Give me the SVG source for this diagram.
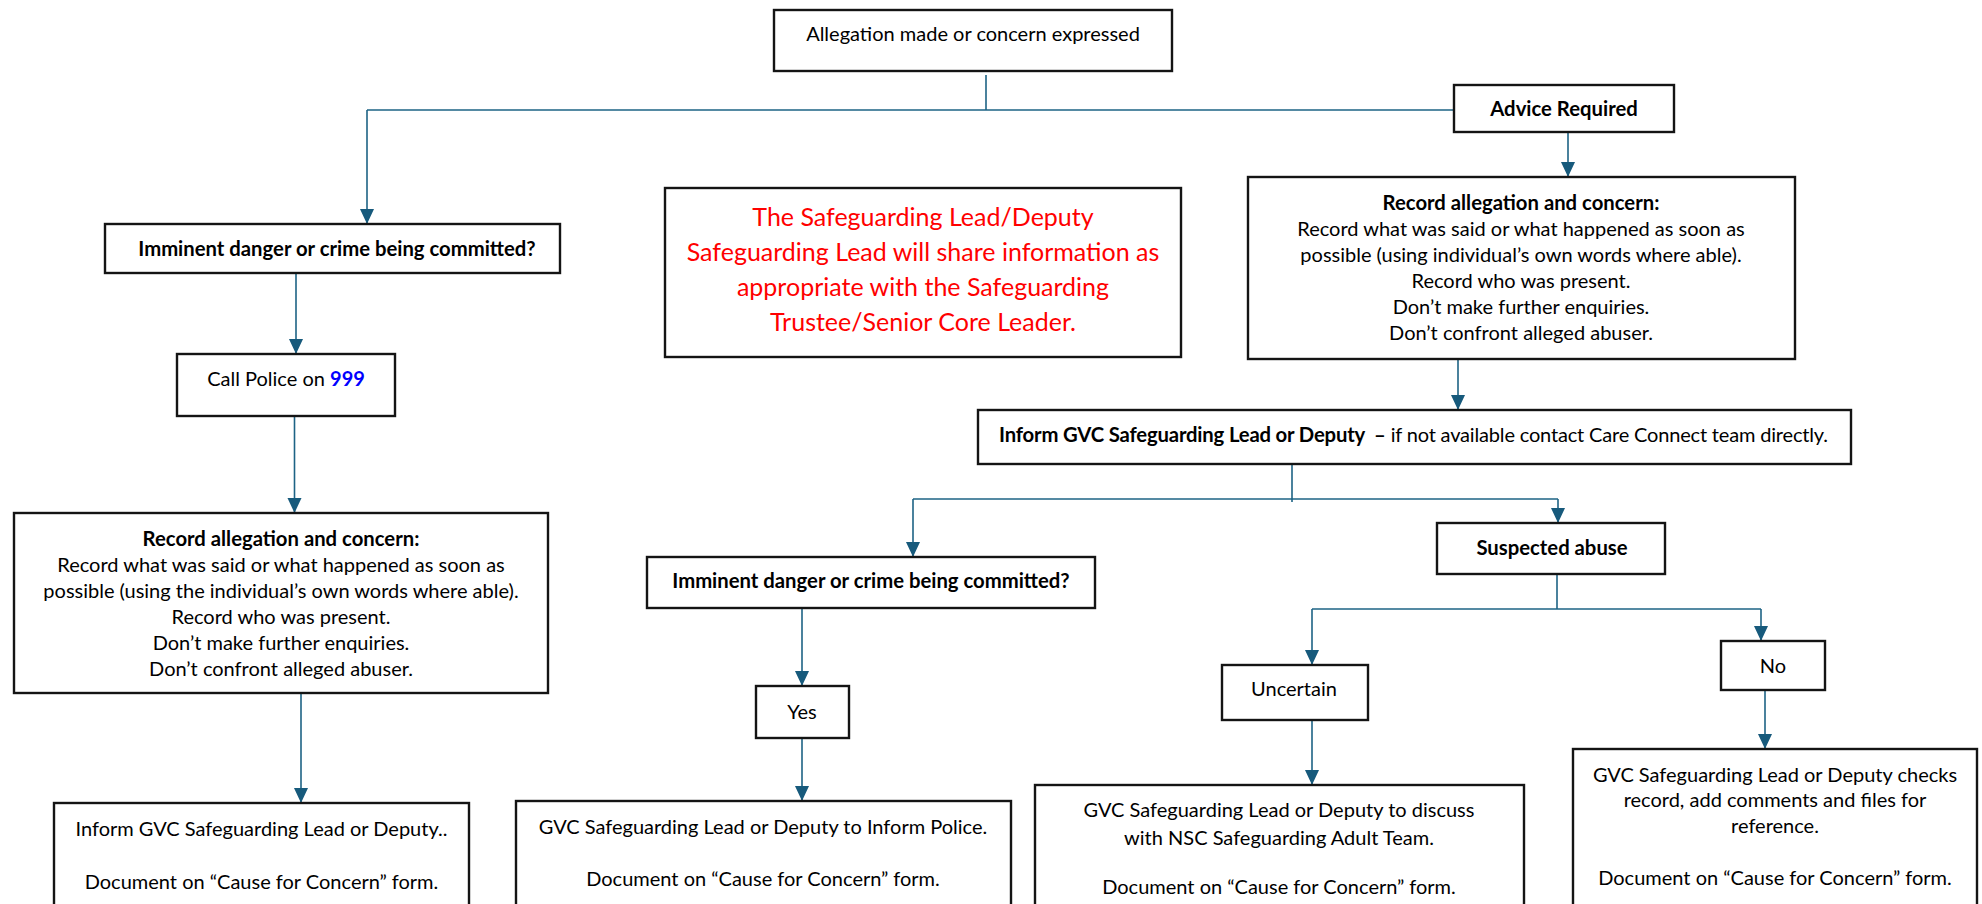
<svg xmlns="http://www.w3.org/2000/svg" width="1982" height="904" viewBox="0 0 1982 904">
<style>
.box{fill:#fff;stroke:#141414;stroke-width:2.4}
.t{font-family:Lato,"Liberation Sans",sans-serif;font-size:20px;fill:#000;text-anchor:middle}
.b{font-weight:bold;font-size:20.3px}
.red{font-size:25px;fill:#ff0000}
.blue{fill:#0000ff;font-weight:bold}
.c{fill:none;stroke:#1d6385;stroke-width:1.6}
.a{marker-end:url(#arr)}
</style>
<defs>
<marker id="arr" markerUnits="userSpaceOnUse" markerWidth="16" markerHeight="16" viewBox="0 0 16 16" refX="15" refY="8" orient="auto">
<path d="M0,1 L15,8 L0,15 Z" fill="#175a7c"/>
</marker>
</defs>
<rect width="1982" height="904" fill="#fff"/>
<g id="connectors">
<path class="c" d="M986,75 V110"/>
<path class="c" d="M367,110 H1454"/>
<path class="c a" d="M367,110 V224"/>
<path class="c a" d="M1568,132 V177"/>
<path class="c a" d="M296,273 V354"/>
<path class="c a" d="M294.5,416 V513"/>
<path class="c a" d="M301,693 V803"/>
<path class="c a" d="M1458,359 V410"/>
<path class="c" d="M1292,464 V502"/>
<path class="c" d="M913,499 H1558"/>
<path class="c a" d="M913,499 V557"/>
<path class="c a" d="M1558,499 V523"/>
<path class="c a" d="M802,608 V686"/>
<path class="c a" d="M802,738 V801"/>
<path class="c" d="M1557,574 V609"/>
<path class="c" d="M1312,609 H1761"/>
<path class="c a" d="M1312,609 V665"/>
<path class="c a" d="M1761,609 V641"/>
<path class="c a" d="M1312,720 V785"/>
<path class="c a" d="M1765,690 V749"/>
</g>
<g id="n_top">
<rect class="box" x="774" y="10" width="398" height="61"/>
<text class="t" x="973" y="41">Allegation made or concern expressed</text>
</g>
<g id="n_advice">
<rect class="box" x="1454" y="85" width="220" height="47"/>
<text class="t b" x="1564" y="116">Advice Required</text>
</g>
<g id="n_imm1">
<rect class="box" x="105" y="224" width="455" height="49"/>
<text class="t b" x="337" y="256">Imminent danger or crime being committed?</text>
</g>
<g id="n_red">
<rect class="box" x="665" y="188" width="516" height="169"/>
<text class="t red" x="923" y="226">The Safeguarding Lead/Deputy</text>
<text class="t red" x="923" y="261">Safeguarding Lead will share information as</text>
<text class="t red" x="923" y="296">appropriate with the Safeguarding</text>
<text class="t red" x="923" y="331">Trustee/Senior Core Leader.</text>
</g>
<g id="n_recR">
<rect class="box" x="1248" y="177" width="547" height="182"/>
<text class="t b" x="1521" y="209.5">Record allegation and concern:</text>
<text class="t" x="1521" y="235.5">Record what was said or what happened as soon as</text>
<text class="t" x="1521" y="261.5">possible (using individual’s own words where able).</text>
<text class="t" x="1521" y="288">Record who was present.</text>
<text class="t" x="1521" y="314">Don’t make further enquiries.</text>
<text class="t" x="1521" y="340">Don’t confront alleged abuser.</text>
</g>
<g id="n_police">
<rect class="box" x="177" y="354" width="218" height="62"/>
<text class="t" x="286" y="386">Call Police on <tspan class="blue">999</tspan></text>
</g>
<g id="n_recL">
<rect class="box" x="14" y="513" width="534" height="180"/>
<text class="t b" x="281" y="545.5">Record allegation and concern:</text>
<text class="t" x="281" y="571.5">Record what was said or what happened as soon as</text>
<text class="t" x="281" y="597.5">possible (using the individual’s own words where able).</text>
<text class="t" x="281" y="623.5">Record who was present.</text>
<text class="t" x="281" y="649.5">Don’t make further enquiries.</text>
<text class="t" x="281" y="675.5">Don’t confront alleged abuser.</text>
</g>
<g id="n_inform">
<rect class="box" x="978" y="410" width="873" height="54"/>
<text class="t" x="1413.5" y="442" textLength="829"><tspan class="b">Inform GVC Safeguarding Lead or Deputy</tspan><tspan class="b" dx="9">–</tspan> if not available contact Care Connect team directly.</text>
</g>
<g id="n_imm2">
<rect class="box" x="647" y="557" width="448" height="51"/>
<text class="t b" x="871" y="588">Imminent danger or crime being committed?</text>
</g>
<g id="n_susp">
<rect class="box" x="1437" y="523" width="228" height="51"/>
<text class="t b" x="1552" y="555">Suspected abuse</text>
</g>
<g id="n_unc">
<rect class="box" x="1222" y="665" width="146" height="55"/>
<text class="t" x="1294" y="696">Uncertain</text>
</g>
<g id="n_no">
<rect class="box" x="1721" y="641" width="104" height="49"/>
<text class="t" x="1773" y="673">No</text>
</g>
<g id="n_yes">
<rect class="box" x="756" y="686" width="93" height="52"/>
<text class="t" x="802" y="719">Yes</text>
</g>
<g id="n_infL">
<rect class="box" x="54" y="803" width="415" height="110"/>
<text class="t" x="261.5" y="836">Inform GVC Safeguarding Lead or Deputy..</text>
<text class="t" x="261.5" y="889">Document on “Cause for Concern” form.</text>
</g>
<g id="n_police2">
<rect class="box" x="516" y="801" width="495" height="112"/>
<text class="t" x="763" y="834">GVC Safeguarding Lead or Deputy to Inform Police.</text>
<text class="t" x="763" y="886">Document on “Cause for Concern” form.</text>
</g>
<g id="n_unc2">
<rect class="box" x="1035" y="785" width="489" height="128"/>
<text class="t" x="1279" y="817">GVC Safeguarding Lead or Deputy to discuss</text>
<text class="t" x="1279" y="845">with NSC Safeguarding Adult Team.</text>
<text class="t" x="1279" y="894">Document on “Cause for Concern” form.</text>
</g>
<g id="n_no2">
<rect class="box" x="1573" y="749" width="404" height="164"/>
<text class="t" x="1775" y="782">GVC Safeguarding Lead or Deputy checks</text>
<text class="t" x="1775" y="807">record, add comments and files for</text>
<text class="t" x="1775" y="833">reference.</text>
<text class="t" x="1775" y="885">Document on “Cause for Concern” form.</text>
</g>
</svg>
